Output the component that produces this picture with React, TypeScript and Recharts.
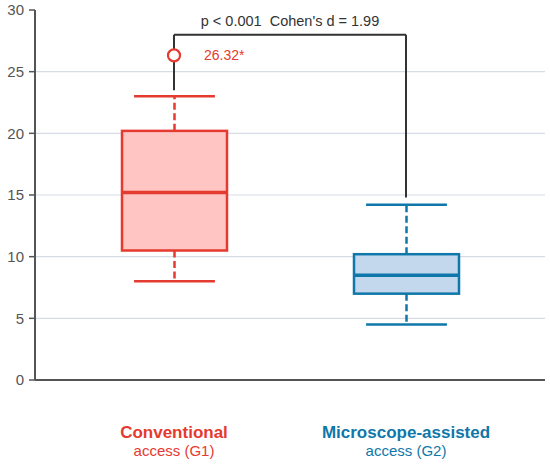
import { ComposedChart, Bar, Line, ErrorBar, XAxis, YAxis, CartesianGrid, ReferenceLine } from "recharts";

// box plot summary per group
const groups = ["G1", "G2"];
const titles = ["Conventional", "Microscope-assisted"];
const subtitles = ["access (G1)", "access (G2)"];
const lowWhisker = [8.0, 4.5];
const q1 = [10.5, 7.0];
const medians = [15.2, 8.5];
const q3 = [20.2, 10.2];
const highWhisker = [23.0, 14.2];
const outlierValues = [26.32, null];

// significance bracket
const bracketTop = 28;
const bracketEnds = [23.5, 14.8];
const statText = "p < 0.001\u00a0 Cohen's d = 1.99";

const yTicks = [0, 5, 10, 15, 20, 25, 30];
const gridValues = [5, 10, 15, 20, 25];

const strokeColors = ["#e53a2f", "#0f77aa"];
const fillColors = ["#fec5c2", "#c3d8ec"];
const font = "'Liberation Sans', Arial, sans-serif";

const data = groups.map((g, i) => ({
  group: g,
  lo: lowWhisker[i],
  q1: q1[i],
  med: medians[i],
  q3: q3[i],
  hi: highWhisker[i],
  out: outlierValues[i],
  bracket: bracketTop,
  leg: [bracketTop - bracketEnds[i], 0],
}));

const BoxShape = (props: any) => {
  const { x, y, width, height, payload, index } = props;
  const bottom = y + height;
  const k = height / payload.hi;
  const py = (v: number) => bottom - v * k;
  const cx = x + width / 2;
  const cap = width * 0.385;
  const stroke = strokeColors[index];
  return (
    <g>
      <line x1={cx} x2={cx} y1={py(payload.q3)} y2={py(payload.hi)} stroke={stroke} strokeWidth={2.5} strokeDasharray="7 3.5" />
      <line x1={cx} x2={cx} y1={py(payload.q1)} y2={py(payload.lo)} stroke={stroke} strokeWidth={2.5} strokeDasharray="7 3.5" />
      <line x1={cx - cap} x2={cx + cap} y1={py(payload.hi)} y2={py(payload.hi)} stroke={stroke} strokeWidth={2.5} />
      <line x1={cx - cap} x2={cx + cap} y1={py(payload.lo)} y2={py(payload.lo)} stroke={stroke} strokeWidth={2.5} />
      <rect x={x} y={py(payload.q3)} width={width} height={py(payload.q1) - py(payload.q3)} fill={fillColors[index]} stroke={stroke} strokeWidth={2.5} />
      <line x1={x} x2={x + width} y1={py(payload.med)} y2={py(payload.med)} stroke={stroke} strokeWidth={3.5} />
    </g>
  );
};

const OutlierDot = (props: any) => {
  const { cx, cy, payload, index } = props;
  if (payload.out == null) return <g key={index} />;
  return (
    <g key={index}>
      <circle cx={cx} cy={cy} r={6} fill="white" stroke={strokeColors[index]} strokeWidth={2.2} />
      <text x={cx + 30} y={cy} dy={5} fill={strokeColors[index]} fontSize={14} fontFamily={font}>
        {payload.out.toFixed(2)}*
      </text>
    </g>
  );
};

const GroupTick = (props: any) => {
  const { x, y, index } = props;
  return (
    <g>
      <text x={x} y={y} dy={50} textAnchor="middle" fill={strokeColors[index]} fontSize={17} fontWeight="bold" fontFamily={font}>
        {titles[index]}
      </text>
      <text x={x} y={y} dy={68} textAnchor="middle" fill={strokeColors[index]} fontSize={15} fontFamily={font}>
        {subtitles[index]}
      </text>
    </g>
  );
};

export default function App() {
  return (
    <div style={{ position: "absolute", left: 0, top: 0, width: 550, height: 465, background: "white" }}>
      <ComposedChart width={550} height={465} data={data} margin={{ top: 10, right: 5, left: 0, bottom: 55 }}>
        <CartesianGrid vertical={false} horizontalValues={gridValues} stroke="#d6dce5" strokeWidth={1.2} />
        <XAxis
          dataKey="group"
          type="category"
          height={30}
          padding={{ left: 23, right: 23 }}
          tickLine={false}
          axisLine={{ stroke: "#555", strokeWidth: 2 }}
          tick={<GroupTick />}
          interval={0}
        />
        <YAxis
          domain={[0, 30]}
          ticks={yTicks}
          width={35}
          tickSize={6}
          tickMargin={5}
          axisLine={{ stroke: "#555", strokeWidth: 2 }}
          tickLine={{ stroke: "#555", strokeWidth: 1.5 }}
          tick={{ fill: "#555", fontSize: 15, fontFamily: font }}
        />
        <Bar dataKey="hi" barSize={105} shape={<BoxShape />} isAnimationActive={false} />
        <Line dataKey="bracket" stroke="#333" strokeWidth={2} dot={false} activeDot={false} isAnimationActive={false}>
          <ErrorBar dataKey="leg" direction="y" width={0} stroke="#333" strokeWidth={2} isAnimationActive={false} />
        </Line>
        <Line dataKey="out" stroke="none" dot={<OutlierDot />} activeDot={false} isAnimationActive={false} />
        <ReferenceLine
          y={bracketTop}
          stroke="none"
          label={{ value: statText, position: "top", offset: 9, fill: "#333", fontSize: 14.5, fontFamily: font }}
        />
      </ComposedChart>
    </div>
  );
}
